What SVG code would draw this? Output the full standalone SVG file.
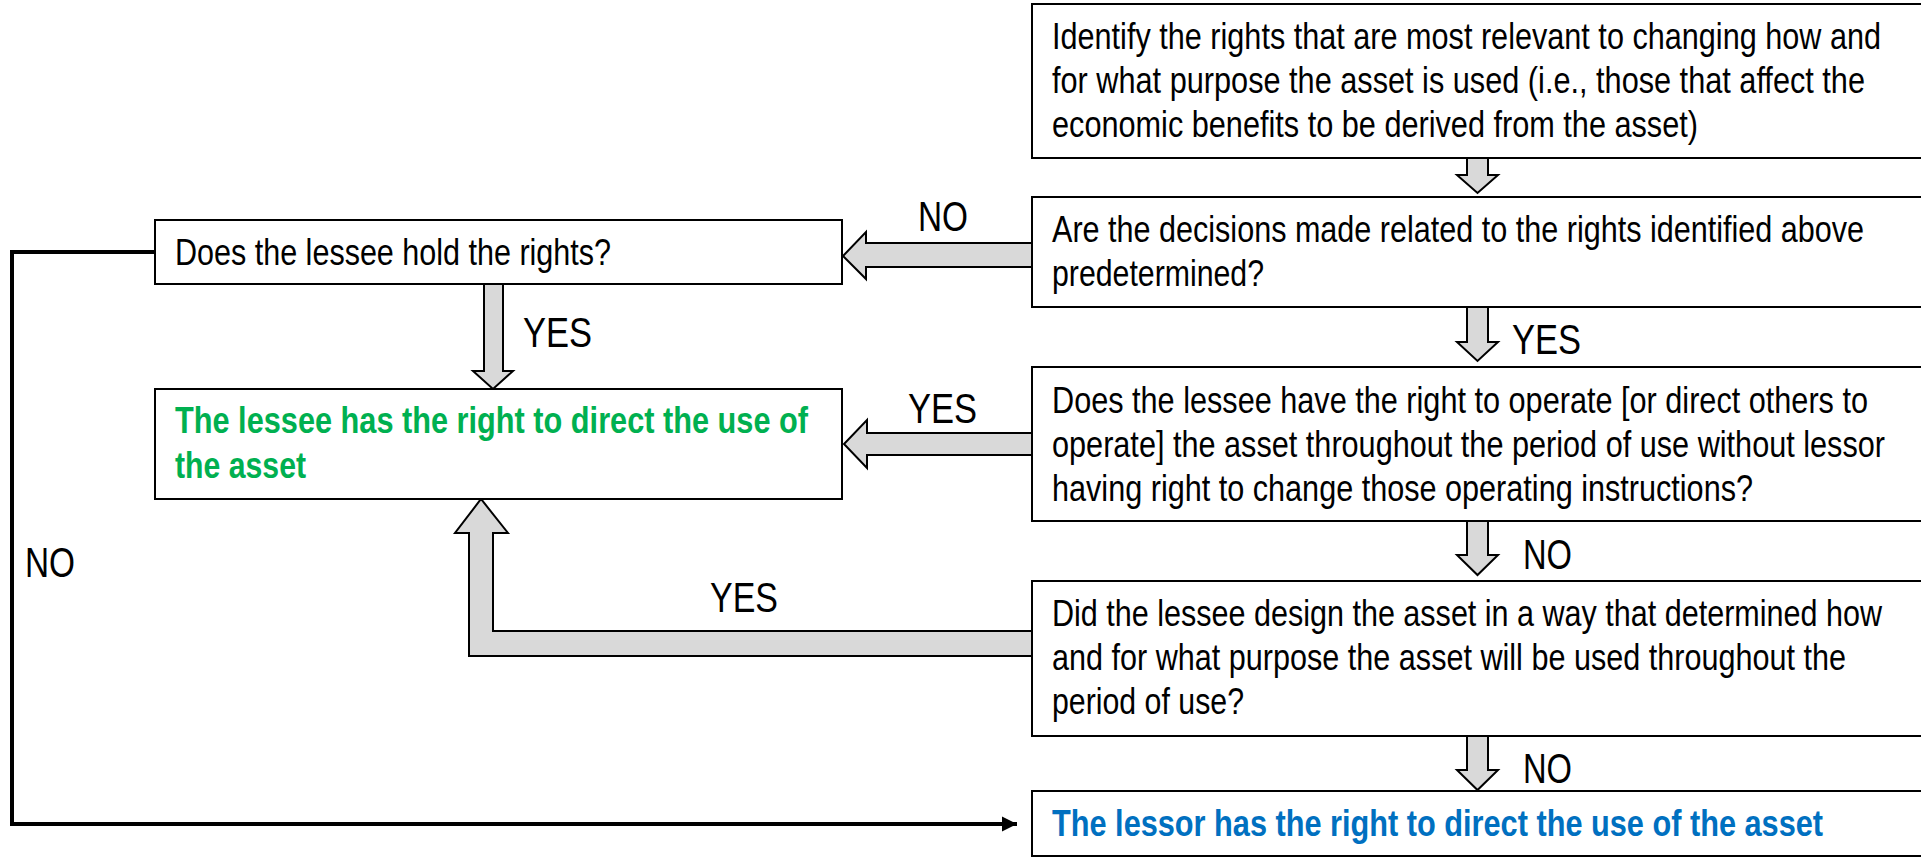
<svg xmlns="http://www.w3.org/2000/svg" width="1921" height="857" viewBox="0 0 1921 857">
<defs>
<style>
.box{fill:#FFFFFF;stroke:#000000;stroke-width:2}
.blk{fill:#D9D9D9;stroke:#000000;stroke-width:2;stroke-linejoin:miter}
.t{font-family:"Liberation Sans Narrow","Liberation Sans",Arial,sans-serif;font-size:37px;fill:#000000}
.g{font-family:"Liberation Sans Narrow","Liberation Sans",Arial,sans-serif;font-size:37px;font-weight:bold;fill:#00B050}
.b{font-family:"Liberation Sans Narrow","Liberation Sans",Arial,sans-serif;font-size:37px;font-weight:bold;fill:#0070C0}
.lbl{font-family:"Liberation Sans Narrow","Liberation Sans",Arial,sans-serif;font-size:42px;fill:#000000}
.line{fill:none;stroke:#000000;stroke-width:4}
</style>
<marker id="ah" markerUnits="userSpaceOnUse" markerWidth="16" markerHeight="16" refX="15" refY="8" orient="auto">
<path d="M0,0.5 L15,8 L0,15.5 Z" fill="#000000"/>
</marker>
</defs>
<rect width="1921" height="857" fill="#FFFFFF"/>

<g id="connectors">
<path class="line" d="M155,252 H12 V824 H1017" marker-end="url(#ah)"/>
<polygon class="blk" points="1467,158 1488,158 1488,175 1498,175 1477.5,193 1457,175 1467,175"/>
<polygon class="blk" points="1467,307 1488,307 1488,342 1498,342 1477.5,361 1457,342 1467,342"/>
<polygon class="blk" points="1467,521 1488,521 1488,555 1498,555 1477.5,575 1457,555 1467,555"/>
<polygon class="blk" points="1467,736 1488,736 1488,770 1498,770 1477.5,790 1457,770 1467,770"/>
<polygon class="blk" points="1032,243 866,243 866,232 843,256 866,279 866,267 1032,267"/>
<polygon class="blk" points="1032,433 867,433 867,420 844,444 867,468 867,455 1032,455"/>
<polygon class="blk" points="484,284 503,284 503,371 513,371 493,389 473,371 484,371"/>
<polygon class="blk" points="1032,631 493,631 493,533 508,533 481,499 455,533 469,533 469,656 1032,656"/>
<text class="lbl" x="918" y="231" textLength="50" lengthAdjust="spacingAndGlyphs">NO</text>
<text class="lbl" x="523" y="347" textLength="69" lengthAdjust="spacingAndGlyphs">YES</text>
<text class="lbl" x="908" y="423" textLength="69" lengthAdjust="spacingAndGlyphs">YES</text>
<text class="lbl" x="710" y="612" textLength="68" lengthAdjust="spacingAndGlyphs">YES</text>
<text class="lbl" x="25" y="577" textLength="50" lengthAdjust="spacingAndGlyphs">NO</text>
<text class="lbl" x="1512" y="354" textLength="69" lengthAdjust="spacingAndGlyphs">YES</text>
<text class="lbl" x="1523" y="569" textLength="49" lengthAdjust="spacingAndGlyphs">NO</text>
<text class="lbl" x="1523" y="783" textLength="49" lengthAdjust="spacingAndGlyphs">NO</text>
</g>

<g id="identify-rights">
<rect class="box" x="1032" y="4" width="890" height="154"/>
<text class="t" x="1052" y="49" textLength="829" lengthAdjust="spacingAndGlyphs">Identify the rights that are most relevant to changing how and</text>
<text class="t" x="1052" y="93" textLength="813" lengthAdjust="spacingAndGlyphs">for what purpose the asset is used (i.e., those that affect the</text>
<text class="t" x="1052" y="137" textLength="646" lengthAdjust="spacingAndGlyphs">economic benefits to be derived from the asset)</text>
</g>

<g id="predetermined">
<rect class="box" x="1032" y="197" width="890" height="110"/>
<text class="t" x="1052" y="242" textLength="812" lengthAdjust="spacingAndGlyphs">Are the decisions made related to the rights identified above</text>
<text class="t" x="1052" y="286" textLength="212" lengthAdjust="spacingAndGlyphs">predetermined?</text>
</g>

<g id="right-to-operate">
<rect class="box" x="1032" y="367" width="890" height="154"/>
<text class="t" x="1052" y="413" textLength="816" lengthAdjust="spacingAndGlyphs">Does the lessee have the right to operate [or direct others to</text>
<text class="t" x="1052" y="457" textLength="833" lengthAdjust="spacingAndGlyphs">operate] the asset throughout the period of use without lessor</text>
<text class="t" x="1052" y="501" textLength="701" lengthAdjust="spacingAndGlyphs">having right to change those operating instructions?</text>
</g>

<g id="design-asset">
<rect class="box" x="1032" y="581" width="890" height="155"/>
<text class="t" x="1052" y="626" textLength="830" lengthAdjust="spacingAndGlyphs">Did the lessee design the asset in a way that determined how</text>
<text class="t" x="1052" y="670" textLength="794" lengthAdjust="spacingAndGlyphs">and for what purpose the asset will be used throughout the</text>
<text class="t" x="1052" y="714" textLength="192" lengthAdjust="spacingAndGlyphs">period of use?</text>
</g>

<g id="lessor-directs">
<rect class="box" x="1032" y="791" width="890" height="65"/>
<text class="b" x="1052" y="836" textLength="771" lengthAdjust="spacingAndGlyphs">The lessor has the right to direct the use of the asset</text>
</g>

<g id="lessee-holds-rights">
<rect class="box" x="155" y="220" width="687" height="64"/>
<text class="t" x="175" y="265" textLength="436" lengthAdjust="spacingAndGlyphs">Does the lessee hold the rights?</text>
</g>

<g id="lessee-directs">
<rect class="box" x="155" y="389" width="687" height="110"/>
<text class="g" x="175" y="433" textLength="633" lengthAdjust="spacingAndGlyphs">The lessee has the right to direct the use of</text>
<text class="g" x="175" y="478" textLength="131" lengthAdjust="spacingAndGlyphs">the asset</text>
</g>
</svg>
